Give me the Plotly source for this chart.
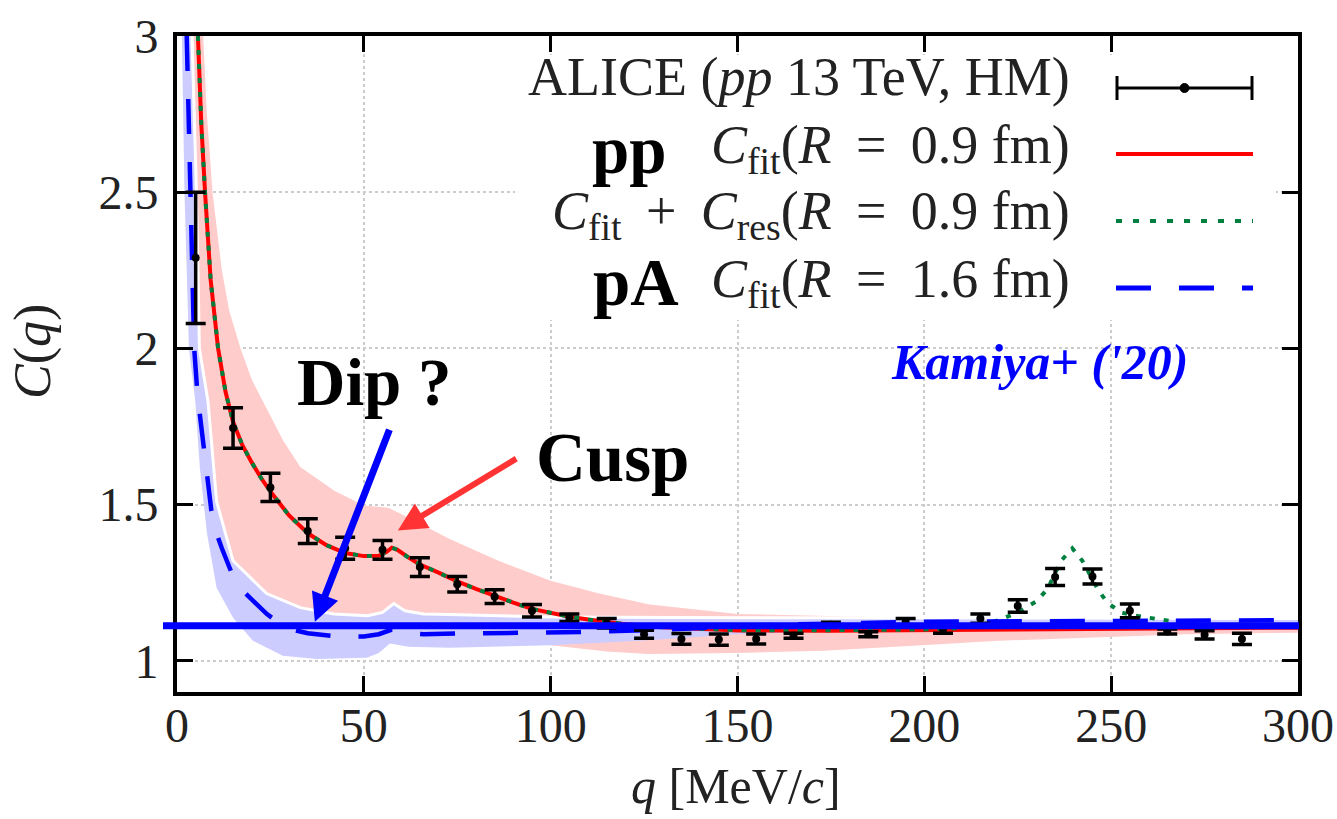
import plotly.graph_objects as go

# ---------------- data ----------------
q_data = [5, 15, 25, 35, 45, 55, 65, 75, 85, 95, 105, 115, 125, 135, 145, 155,
          165, 175, 185, 195, 205, 215, 225, 235, 245, 255, 265, 275, 285]
c_data = [2.29, 1.745, 1.555, 1.415, 1.36, 1.355, 1.30, 1.245, 1.205, 1.16, 1.138,
          1.12, 1.085, 1.07, 1.068, 1.07, 1.08, 1.115, 1.085, 1.125, 1.10, 1.135,
          1.175, 1.268, 1.27, 1.16, 1.094, 1.083, 1.07]
c_err = [0.21, 0.065, 0.045, 0.04, 0.035, 0.03, 0.03, 0.025, 0.022, 0.02, 0.012,
         0.015, 0.013, 0.017, 0.018, 0.016, 0.008, 0.008, 0.008, 0.01, 0.012, 0.015,
         0.02, 0.027, 0.024, 0.022, 0.008, 0.013, 0.018]

# pp  C_fit (R = 0.9 fm)
q_fit_pp = [5.6, 6.5, 7.5, 9, 11, 13, 15, 17.5, 20, 22.5, 25, 30, 35, 40, 45, 50, 54,
            56, 57.5, 59, 62, 65, 70, 75, 80, 85, 90, 95, 100, 105, 110, 115, 120,
            130, 140, 150, 175, 200, 225, 250, 275, 300]
c_fit_pp = [3.0, 2.72, 2.5, 2.22, 2.0, 1.86, 1.765, 1.69, 1.635, 1.585, 1.542, 1.465,
            1.408, 1.37, 1.345, 1.335, 1.336, 1.348, 1.362, 1.355, 1.33, 1.308, 1.282,
            1.254, 1.23, 1.207, 1.186, 1.166, 1.152, 1.141, 1.132, 1.124, 1.117,
            1.107, 1.101, 1.097, 1.096, 1.098, 1.101, 1.103, 1.105, 1.106]

# pp  C_fit + C_res (R = 0.9 fm)
q_res_pp = [5.6, 6.5, 7.5, 9, 11, 13, 15, 17.5, 20, 22.5, 25, 30, 35, 40, 45, 50, 54,
            56, 57.5, 59, 62, 65, 70, 75, 80, 85, 90, 95, 100, 105, 110, 115, 120,
            130, 140, 150, 175, 200, 210, 215, 220, 225, 230, 233, 236.6, 239.6,
            242.3, 246.6, 249, 252.6, 256, 261, 270, 280, 300]
c_res_pp = [3.0, 2.72, 2.5, 2.22, 2.0, 1.86, 1.765, 1.69, 1.635, 1.585, 1.542, 1.465,
            1.408, 1.37, 1.345, 1.335, 1.336, 1.348, 1.362, 1.355, 1.33, 1.308, 1.282,
            1.254, 1.23, 1.207, 1.186, 1.166, 1.152, 1.141, 1.132, 1.124, 1.117,
            1.107, 1.101, 1.098, 1.098, 1.10, 1.105, 1.115, 1.13, 1.155, 1.19, 1.23,
            1.32, 1.36, 1.32, 1.225, 1.186, 1.155, 1.145, 1.135, 1.12, 1.112, 1.108]

# pA  C_fit (R = 1.6 fm)
q_fit_pa = [2.6, 3.1, 3.7, 4.1, 4.6, 5.5, 6.7, 8, 9.2, 10.5, 12, 15, 17.5, 20, 24,
            29, 35, 43, 50, 54, 57.5, 61, 66, 75, 90, 110, 130, 160, 200, 250, 300]
c_fit_pa = [3.0, 2.75, 2.5, 2.25, 2.0, 1.85, 1.74, 1.6, 1.48, 1.41, 1.36, 1.27,
            1.225, 1.195, 1.15, 1.105, 1.088, 1.078, 1.078, 1.085, 1.10, 1.09, 1.085,
            1.087, 1.088, 1.092, 1.10, 1.115, 1.125, 1.128, 1.13]

# pp uncertainty band
q_band_pp_hi = [7, 8, 9.5, 12, 14, 17, 20, 23, 28.4, 33, 42, 50, 56.5, 60, 73, 86,
                100, 113, 126.5, 150, 186, 220, 260, 300]
c_band_pp_hi = [3.0, 2.75, 2.5, 2.25, 2.12, 2.0, 1.9, 1.83, 1.705, 1.62, 1.545, 1.497,
                1.49, 1.47, 1.39, 1.32, 1.256, 1.215, 1.18, 1.15, 1.14, 1.135, 1.13,
                1.128]
q_band_pp_lo = [4.3, 5.4, 6.2, 8.3, 10.6, 15, 24, 33, 42, 51, 55, 58, 61, 66, 73, 85,
                100, 115, 126, 150, 173, 197, 220, 244, 270, 300]
c_band_pp_lo = [3.0, 2.5, 2.0, 1.83, 1.51, 1.32, 1.215, 1.17, 1.15, 1.144, 1.155,
                1.183, 1.16, 1.15, 1.145, 1.09, 1.05, 1.03, 1.022, 1.025, 1.032, 1.048,
                1.064, 1.074, 1.085, 1.09]

# pA uncertainty band
q_band_pa_hi = [4.0, 5.2, 6.0, 8.3, 10.6, 15, 24, 33, 42, 51, 55, 58, 61, 66, 73, 100,
                150, 200, 250, 300]
c_band_pa_hi = [3.0, 2.5, 2.0, 1.83, 1.51, 1.32, 1.215, 1.17, 1.15, 1.144, 1.155,
                1.183, 1.16, 1.15, 1.148, 1.14, 1.138, 1.137, 1.136, 1.135]
q_band_pa_lo = [1.3, 2.0, 3.2, 4.9, 6.1, 8, 10.6, 15, 20.3, 28.3, 37.4, 50.8, 54, 57,
                62, 73, 100, 125, 150, 200, 250, 300]
c_band_pa_lo = [3.0, 2.5, 2.0, 1.83, 1.62, 1.41, 1.234, 1.138, 1.064, 1.016, 1.006,
                1.01, 1.025, 1.055, 1.045, 1.042, 1.05, 1.065, 1.085, 1.10, 1.105, 1.108]

baseline_c = 1.112
dip_tip = (36.9, 1.125)
dip_tail = (57.0, 1.744)
cusp_tip = (59.1, 1.417)
cusp_tail = (91.2, 1.65)

x_ticks = [0, 50, 100, 150, 200, 250, 300]
y_ticks = [1, 1.5, 2, 2.5, 3]
y_ticklabels = ["1", "1.5", "2", "2.5", "3"]

# ---------------- layout geometry (pixels) ----------------
W, H = 1337, 819
L, R, T, B = 177, 39, 36, 127
PW, PH = W - L - R, H - T - B
SERIF = "Liberation Serif, Times New Roman, serif"
SP = " \u2009"  # a little wider than a plain space (math spacing)


def px(xp):
    return (xp - L) / PW


def py(yp):
    return (H - B - yp) / PH


fig = go.Figure()

# bands
fig.add_trace(go.Scatter(
    x=q_band_pp_hi + q_band_pp_lo[::-1], y=c_band_pp_hi + c_band_pp_lo[::-1],
    fill="toself", fillcolor="#ffcccc", line=dict(width=0), mode="lines",
    hoverinfo="skip", showlegend=False))
fig.add_trace(go.Scatter(
    x=q_band_pa_hi + q_band_pa_lo[::-1], y=c_band_pa_hi + c_band_pa_lo[::-1],
    fill="toself", fillcolor="#ccccff", line=dict(width=0), mode="lines",
    hoverinfo="skip", showlegend=False))
fig.add_trace(go.Scatter(
    x=q_band_pa_hi, y=c_band_pa_hi, mode="lines",
    line=dict(color="white", width=3), hoverinfo="skip", showlegend=False))

# curves
fig.add_trace(go.Scatter(x=q_fit_pp, y=c_fit_pp, mode="lines",
                         line=dict(color="#ff0000", width=4), showlegend=False))
fig.add_trace(go.Scatter(x=q_res_pp, y=c_res_pp, mode="lines",
                         line=dict(color="#00803f", width=4, dash="5px,9px"),
                         showlegend=False))
fig.add_trace(go.Scatter(x=q_fit_pa, y=c_fit_pa, mode="lines",
                         line=dict(color="#0000ff", width=4.5, dash="35px,28px"),
                         showlegend=False))

# data
fig.add_trace(go.Scatter(
    x=q_data, y=c_data, mode="markers",
    marker=dict(color="black", size=8),
    error_y=dict(type="data", array=c_err, color="black", thickness=3.5, width=10),
    showlegend=False))

shapes = []
# legend background
shapes.append(dict(type="rect", xref="paper", yref="paper",
                   x0=px(515), x1=px(1276), y0=py(320), y1=py(55),
                   fillcolor="white", line=dict(width=0), layer="above"))
# legend samples
ly = [88, 154, 221, 288]
shapes.append(dict(type="line", xref="paper", yref="paper", x0=px(1117), x1=px(1252),
                   y0=py(ly[0]), y1=py(ly[0]), line=dict(color="black", width=3),
                   layer="above"))
for xe in (1117, 1252):
    shapes.append(dict(type="line", xref="paper", yref="paper", x0=px(xe), x1=px(xe),
                       y0=py(ly[0] - 12), y1=py(ly[0] + 12),
                       line=dict(color="black", width=3), layer="above"))
shapes.append(dict(type="circle", xref="paper", yref="paper",
                   x0=px(1180), x1=px(1189), y0=py(ly[0] - 4.5), y1=py(ly[0] + 4.5),
                   fillcolor="black", line=dict(color="black", width=1), layer="above"))
shapes.append(dict(type="line", xref="paper", yref="paper", x0=px(1116), x1=px(1253),
                   y0=py(ly[1]), y1=py(ly[1]), line=dict(color="#ff0000", width=4),
                   layer="above"))
shapes.append(dict(type="line", xref="paper", yref="paper", x0=px(1116), x1=px(1253),
                   y0=py(ly[2]), y1=py(ly[2]),
                   line=dict(color="#00803f", width=4, dash="6px,11px"), layer="above"))
shapes.append(dict(type="line", xref="paper", yref="paper", x0=px(1116), x1=px(1253),
                   y0=py(ly[3]), y1=py(ly[3]),
                   line=dict(color="#0000ff", width=5, dash="35px,28px"), layer="above"))
# thick baseline
shapes.append(dict(type="line", xref="paper", yref="y", x0=px(163), x1=px(1299),
                   y0=baseline_c, y1=baseline_c, line=dict(color="#0000ff", width=7),
                   layer="above"))

ann = []
tick_font = dict(family=SERIF, size=48, color="#222")
leg_font = dict(family=SERIF, size=54, color="#222")
leg_x = px(1072)
ann.append(dict(text="ALICE (<i>pp</i> 13 TeV, HM)", x=leg_x, y=py(77), xref="paper",
                yref="paper", xanchor="right", yanchor="middle", showarrow=False,
                font=leg_font))
ann.append(dict(text="<i>C</i><sub>fit</sub>(<i>R</i>" + SP + "=" + SP + "0.9 fm)",
                x=leg_x, y=py(148), xref="paper", yref="paper", xanchor="right",
                yanchor="middle", showarrow=False, font=leg_font))
ann.append(dict(text="<i>C</i><sub>fit</sub>" + SP + "+" + SP + "<i>C</i><sub>res</sub>(<i>R</i>"
                + SP + "=" + SP + "0.9 fm)",
                x=leg_x, y=py(214), xref="paper", yref="paper", xanchor="right",
                yanchor="middle", showarrow=False, font=leg_font))
ann.append(dict(text="<i>C</i><sub>fit</sub>(<i>R</i>" + SP + "=" + SP + "1.6 fm)",
                x=leg_x, y=py(282), xref="paper", yref="paper", xanchor="right",
                yanchor="middle", showarrow=False, font=leg_font))
big = dict(family=SERIF, size=67, color="black")
ann.append(dict(text="<b>pp</b>", x=px(669), y=py(150), xref="paper", yref="paper",
                xanchor="right", yanchor="middle", showarrow=False, font=big))
ann.append(dict(text="<b>pA</b>", x=px(681), y=py(282), xref="paper", yref="paper",
                xanchor="right", yanchor="middle", showarrow=False, font=big))
ann.append(dict(text="<b>Dip ?</b>", x=px(374), y=py(382), xref="paper", yref="paper",
                xanchor="center", yanchor="middle", showarrow=False, font=big))
ann.append(dict(text="<b>Cusp</b>", x=px(612), y=py(458), xref="paper", yref="paper",
                xanchor="center", yanchor="middle", showarrow=False,
                font=dict(family=SERIF, size=69, color="black")))
ann.append(dict(text="<b><i>Kamiya+ ('20)</i></b>", x=px(1040), y=py(362),
                xref="paper", yref="paper", xanchor="center", yanchor="middle",
                showarrow=False, font=dict(family=SERIF, size=50, color="#0000ff")))
# arrows
ann.append(dict(text="", x=dip_tip[0], y=dip_tip[1], ax=dip_tail[0], ay=dip_tail[1],
                xref="x", yref="y", axref="x", ayref="y", showarrow=True,
                arrowhead=2, arrowsize=0.8, arrowwidth=7, arrowcolor="#0000ff",
                standoff=0, startstandoff=0))
ann.append(dict(text="", x=cusp_tip[0], y=cusp_tip[1], ax=cusp_tail[0], ay=cusp_tail[1],
                xref="x", yref="y", axref="x", ayref="y", showarrow=True,
                arrowhead=2, arrowsize=0.95, arrowwidth=6, arrowcolor="#ff3333",
                standoff=0, startstandoff=0))
# axis titles
ann.append(dict(text="<i>C</i>(<i>q</i>)", x=px(33), y=py(352), xref="paper",
                yref="paper", textangle=-90, xanchor="center", yanchor="middle",
                showarrow=False, font=dict(family=SERIF, size=52, color="#222")))
ann.append(dict(text="<i>q</i> [MeV/<i>c</i>]", x=px(736), y=py(786), xref="paper",
                yref="paper", xanchor="center", yanchor="middle", showarrow=False,
                font=dict(family=SERIF, size=50, color="#222")))

axis_common = dict(showline=True, linecolor="black", linewidth=4, mirror="ticks",
                   ticks="inside", ticklen=16, tickwidth=3, tickcolor="black",
                   showgrid=True, gridcolor="#cccccc", gridwidth=2, griddash="dot",
                   zeroline=False, tickfont=tick_font, automargin=False)

fig.update_layout(
    template="none",
    width=W, height=H,
    margin=dict(l=L, r=R, t=T, b=B, pad=0),
    paper_bgcolor="white", plot_bgcolor="white",
    showlegend=False,
    xaxis=dict(range=[0, 300], tickvals=x_ticks, ticktext=[str(v) for v in x_ticks],
               ticklabelstandoff=-12, **axis_common),
    yaxis=dict(range=[0.9, 3.0], tickvals=y_ticks, ticktext=y_ticklabels,
               ticklabelstandoff=5, **axis_common),
    shapes=shapes,
    annotations=ann,
)

fig.write_html("out.html", config={"displayModeBar": False})
